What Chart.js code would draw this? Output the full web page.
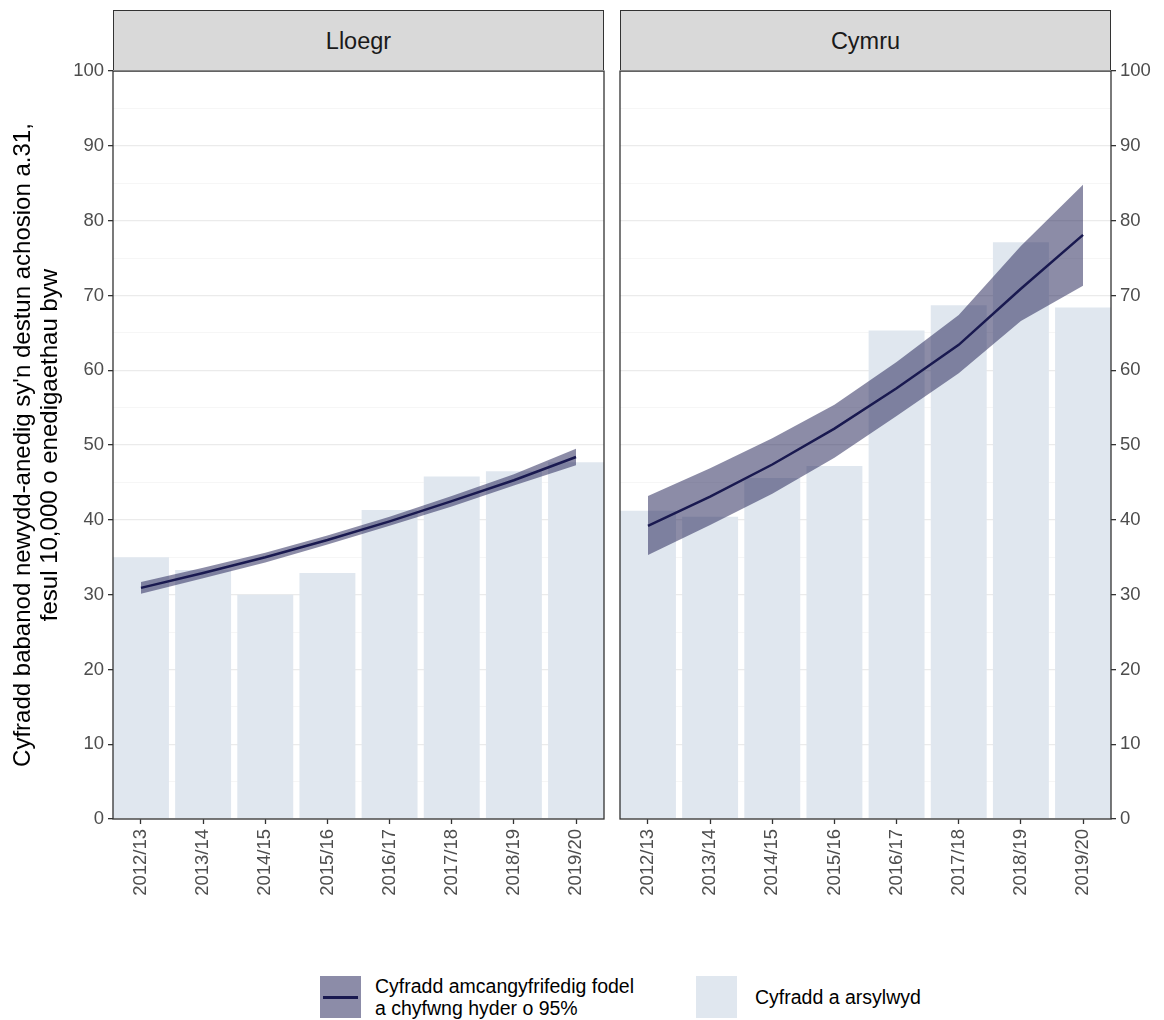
<!DOCTYPE html>
<html lang="cy">
<head>
  <meta charset="UTF-8">
  <title>Cyfradd babanod newydd-anedig</title>
  <script src="https://cdn.jsdelivr.net/npm/chart.js"></script>
  <style>
    body { margin: 0; background: #fff; font-family: "Liberation Sans", Arial, sans-serif; }
    #page { position: relative; width: 1164px; height: 1020px; overflow: hidden; }
    .box { position: absolute; }
    .strip {
      position: absolute; top: 10px; height: 61px; box-sizing: border-box;
      background: #d9d9d9; border: 1.3px solid #333; border-bottom: none;
      display: flex; align-items: center; justify-content: center;
      font-size: 23.5px; color: #1a1a1a;
    }
    .key { position: absolute; top: 976px; width: 41px; height: 42px; }
    .key .ln { position: absolute; left: 3px; right: 3px; top: 20px; height: 2.5px; background: #191950; }
    .ktxt { position: absolute; font-size: 19.5px; color: #000; line-height: 22px; }
  </style>
</head>
<body>
<div id="page">
  <div class="strip" style="left:113px;width:491px;">Lloegr</div>
  <div class="strip" style="left:620px;width:491px;">Cymru</div>

  <div class="box" style="left:0;top:56px;width:610px;height:865px;"><canvas id="lloegr"></canvas></div>
  <div class="box" style="left:614px;top:56px;width:550px;height:865px;"><canvas id="cymru"></canvas></div>

  <div class="key" style="left:320px;background:#8c8ca8;"><div class="ln"></div></div>
  <div class="ktxt" style="left:375px;top:975px;">Cyfradd amcangyfrifedig fodel<br>a chyfwng hyder o 95%</div>
  <div class="key" style="left:696px;background:#e0e7ef;"></div>
  <div class="ktxt" style="left:755px;top:986px;">Cyfradd a arsylwyd</div>
</div>

<script>
  // blynyddoedd
  const years = ['2012/13', '2013/14', '2014/15', '2015/16', '2016/17', '2017/18', '2018/19', '2019/20'];

  // Lloegr
  const lloegrObserved = [35.0, 33.3, 30.0, 32.9, 41.3, 45.8, 46.5, 47.7];
  const lloegrModel    = [30.9, 32.9, 35.0, 37.3, 39.8, 42.5, 45.3, 48.4];
  const lloegrLower    = [30.1, 32.2, 34.3, 36.7, 39.2, 41.8, 44.6, 47.3];
  const lloegrUpper    = [31.7, 33.6, 35.6, 37.9, 40.4, 43.2, 46.1, 49.5];

  // Cymru
  const cymruObserved = [41.2, 40.4, 45.6, 47.2, 65.3, 68.7, 77.1, 68.4];
  const cymruModel    = [39.2, 43.1, 47.4, 52.2, 57.6, 63.4, 70.9, 78.1];
  const cymruLower    = [35.3, 39.3, 43.5, 48.3, 53.9, 59.6, 66.6, 71.3];
  const cymruUpper    = [43.2, 46.9, 50.9, 55.4, 61.1, 67.4, 76.6, 84.8];

  const yTitle = ["Cyfradd babanod newydd-anedig sy'n destun achosion a.31,", 'fesul 10,000 o enedigaethau byw'];

  const FONT = '"Liberation Sans", Arial, sans-serif';
  const BAR = '#e0e7ef';
  const BAND = 'rgba(25,25,80,0.5)';
  const LINE = '#191950';

  // border round the panel, like ggplot's theme_bw
  const panelBorder = {
    id: 'panelBorder',
    afterDraw(chart) {
      const { ctx, chartArea: a } = chart;
      ctx.save();
      ctx.strokeStyle = '#333';
      ctx.lineWidth = 1.3;
      ctx.strokeRect(a.left, a.top, a.right - a.left, a.bottom - a.top);
      ctx.restore();
    }
  };

  function makeChart(id, observed, model, lower, upper, side) {
    const left = side === 'left';
    return new Chart(document.getElementById(id), {
      type: 'bar',
      data: {
        labels: years,
        datasets: [
          { type: 'bar', data: observed, backgroundColor: BAR, barPercentage: 0.9, categoryPercentage: 1, order: 3 },
          { type: 'line', data: lower, borderWidth: 0, pointRadius: 0, fill: false, tension: 0, order: 2 },
          { type: 'line', data: upper, borderWidth: 0, pointRadius: 0, fill: '-1', backgroundColor: BAND, tension: 0, order: 2 },
          { type: 'line', data: model, borderColor: LINE, borderWidth: 2.5, pointRadius: 0, fill: false, tension: 0, order: 1 }
        ]
      },
      options: {
        responsive: true,
        maintainAspectRatio: false,
        animation: false,
        layout: { padding: left ? { top: 10, right: 6 } : { top: 10, left: 6 } },
        plugins: { legend: { display: false }, tooltip: { enabled: false } },
        scales: {
          x: {
            offset: true,
            grid: { offset: false, drawOnChartArea: false, drawTicks: true, tickLength: 5, tickColor: '#333', tickWidth: 1.3 },
            border: { display: false },
            ticks: { minRotation: 90, maxRotation: 90, padding: 5, color: '#4d4d4d', font: { family: FONT, size: 18.5 } },
            afterBuildTicks: s => { s._startValue = -0.45; s._valueRange = years.length - 0.1; },
            afterFit: s => { s.height = 102; }
          },
          y: {
            position: left ? 'left' : 'right',
            min: 0, max: 100,
            grid: {
              color: c => c.tick && c.tick.value % 10 === 0 ? '#ebebeb' : '#f4f4f4',
              lineWidth: c => c.tick && c.tick.value % 10 === 0 ? 1.3 : 0.8,
              tickLength: 5,
              tickColor: c => c.tick && c.tick.value % 10 === 0 ? '#333' : 'rgba(0,0,0,0)',
              tickWidth: 1.3
            },
            border: { display: false },
            ticks: {
              stepSize: 5,
              padding: 4,
              color: '#4d4d4d',
              font: { family: FONT, size: 18.5 },
              callback: v => v % 10 === 0 ? v : ''
            },
            title: left ? { display: true, text: yTitle, color: '#000', font: { family: FONT, size: 24, lineHeight: 1.12 }, padding: { top: 10, bottom: 0 } } : { display: false },
            afterFit: s => { s.width = left ? 113 : 53; }
          }
        }
      },
      plugins: [panelBorder]
    });
  }

  makeChart('lloegr', lloegrObserved, lloegrModel, lloegrLower, lloegrUpper, 'left');
  makeChart('cymru', cymruObserved, cymruModel, cymruLower, cymruUpper, 'right');
</script>
</body>
</html>
